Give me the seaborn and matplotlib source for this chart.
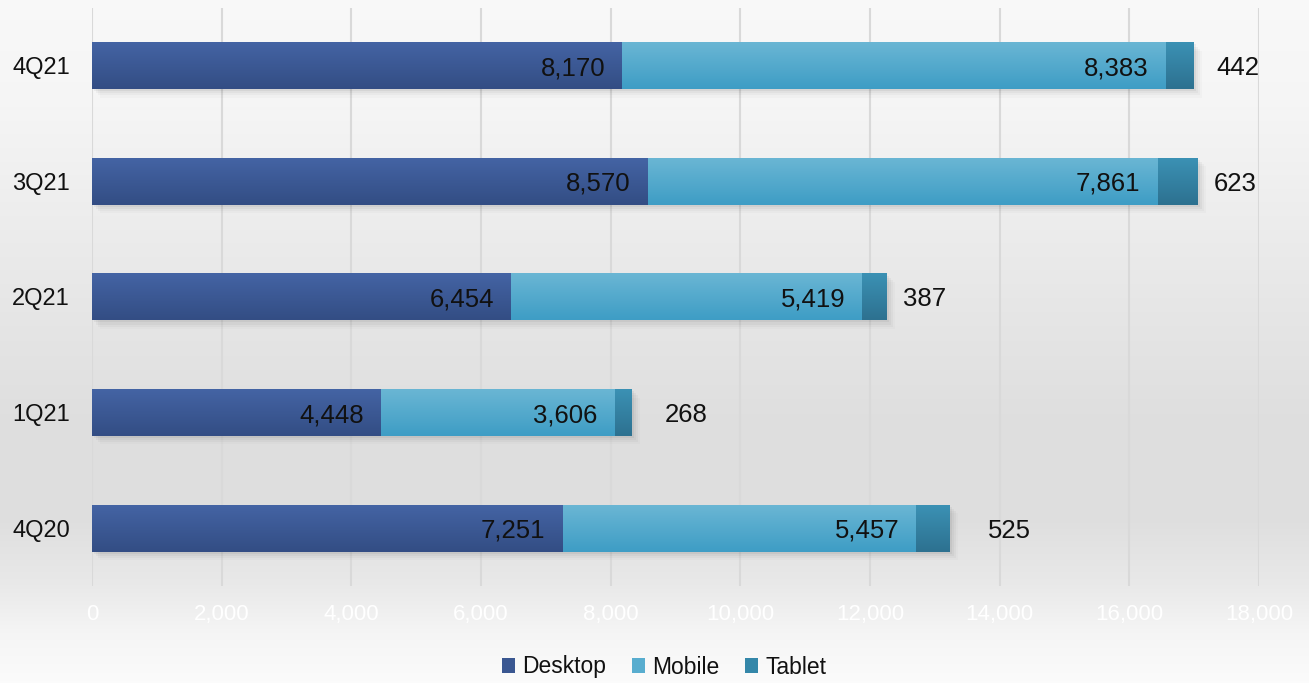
import numpy as np
import pandas as pd
import matplotlib
matplotlib.use("Agg")
import matplotlib.pyplot as plt
import seaborn as sns
from matplotlib import patheffects as pe
from matplotlib.patches import Patch
from matplotlib.ticker import FuncFormatter

# ---------------- data ----------------
quarters = ["4Q21", "3Q21", "2Q21", "1Q21", "4Q20"]
desktop = [8170, 8570, 6454, 4448, 7251]
mobile = [8383, 7861, 5419, 3606, 5457]
tablet = [442, 623, 387, 268, 525]
series_names = ["Desktop", "Mobile", "Tablet"]
x_ticks = [0, 2000, 4000, 6000, 8000, 10000, 12000, 14000, 16000, 18000]

# ---------------- style ----------------
sns.set_theme(style="white")
plt.rcParams["font.family"] = ["Liberation Sans", "DejaVu Sans"]
TXT = "#111111"

grad = {  # (top colour, bottom colour)
    "Desktop": ("#4464A4", "#334D84"),
    "Mobile": ("#6AB6D4", "#3E9DC5"),
    "Tablet": ("#3B91B4", "#2D7190"),
}
legend_cols = {"Desktop": "#3A5791", "Mobile": "#58ADCF", "Tablet": "#3487A9"}

W, H = 1309, 683
fig = plt.figure(figsize=(W / 100, H / 100), dpi=100)

# background vertical gradient
bg = fig.add_axes([0, 0, 1, 1], zorder=-10)
stops_pos = [0.0, 0.15, 0.44, 0.62, 0.76, 0.86, 0.93, 1.0]
stops_val = [0.975, 0.962, 0.905, 0.872, 0.872, 0.915, 0.962, 0.985]
yy = np.linspace(0, 1, 400)
g = np.interp(yy, stops_pos, stops_val)
bg.imshow(np.repeat(g[:, None, None], 3, axis=2), aspect="auto", extent=(0, 1, 1, 0),
          interpolation="bilinear")
bg.set_axis_off()

ax = fig.add_axes([92 / W, 97 / H, 1167 / W, 578 / H])
ax.patch.set_alpha(0)

df = pd.DataFrame({"quarter": quarters, "Desktop": desktop,
                   "Mobile": mobile, "Tablet": tablet})
df["dm"] = df["Desktop"] + df["Mobile"]
df["total"] = df["dm"] + df["Tablet"]


def gradient_rgb(c_top, c_bot, n=64):
    a = np.array(matplotlib.colors.to_rgb(c_top))
    b = np.array(matplotlib.colors.to_rgb(c_bot))
    t = np.linspace(0, 1, n)[:, None]
    return (a * (1 - t) + b * t)[:, None, :]


layers = [("total", "Tablet"), ("dm", "Mobile"), ("Desktop", "Desktop")]
for k, (col, name) in enumerate(layers):
    n0 = len(ax.patches)
    sns.barplot(data=df, x=col, y="quarter", order=quarters, orient="y",
                color=legend_cols[name], saturation=1, width=0.405, ax=ax,
                linewidth=0, edgecolor="none", zorder=2 + k * 0.1)
    img = gradient_rgb(*grad[name])
    for p in ax.patches[n0:]:
        x0, y0, w, h = p.get_x(), p.get_y(), p.get_width(), p.get_height()
        if k == 0:
            p.set_path_effects([
                pe.SimplePatchShadow(offset=(1.5, -1.5), shadow_rgbFace="k", alpha=0.05),
                pe.SimplePatchShadow(offset=(3, -3), shadow_rgbFace="k", alpha=0.04),
                pe.SimplePatchShadow(offset=(4.5, -4.5), shadow_rgbFace="k", alpha=0.03),
                pe.SimplePatchShadow(offset=(6, -6), shadow_rgbFace="k", alpha=0.02),
                pe.Normal()])
        ax.imshow(img, aspect="auto", extent=(x0, x0 + w, y0 + h, y0),
                  interpolation="bilinear", zorder=2.05 + k * 0.1)

ax.set_xlim(0, 18000)
ax.set_ylim(len(quarters) - 0.5, -0.5)
ax.set_xticks(x_ticks)
ax.xaxis.set_major_formatter(FuncFormatter(lambda v, _: f"{int(v):,}"))
ax.grid(axis="x", color="#D9D9D9", lw=1.5)
ax.grid(axis="y", visible=False)
ax.set_axisbelow(True)
for s in ax.spines.values():
    s.set_visible(False)
ax.tick_params(axis="x", length=0, pad=13, labelcolor="white", labelsize=16)
ax.tick_params(axis="y", length=0, pad=16, labelcolor=TXT, labelsize=17)
ax.set_xlabel("")
ax.set_ylabel("")

# value labels
tablet_pads = [16, 11.5, 11.5, 24, 27]
for i in range(len(quarters)):
    ax.annotate(f"{desktop[i]:,}", xy=(df["Desktop"][i], i), xytext=(-12, 0),
                textcoords="offset points", ha="right", va="center_baseline",
                fontsize=18.5, color=TXT, zorder=5)
    ax.annotate(f"{mobile[i]:,}", xy=(df["dm"][i], i), xytext=(-12, 0),
                textcoords="offset points", ha="right", va="center_baseline",
                fontsize=18.5, color=TXT, zorder=5)
    ax.annotate(f"{tablet[i]:,}", xy=(df["total"][i], i), xytext=(tablet_pads[i], 0),
                textcoords="offset points", ha="left", va="center_baseline",
                fontsize=18.5, color=TXT, zorder=5)

handles = [Patch(facecolor=legend_cols[n], edgecolor="none") for n in series_names]
fig.legend(handles, series_names, loc="center", bbox_to_anchor=(664 / W, 16 / H),
           ncol=3, frameon=False, fontsize=16.5, handlelength=0.6, handleheight=0.6,
           handletextpad=0.3, columnspacing=1.1, borderaxespad=0, labelcolor=TXT)

fig.savefig("out.png", dpi=100)
